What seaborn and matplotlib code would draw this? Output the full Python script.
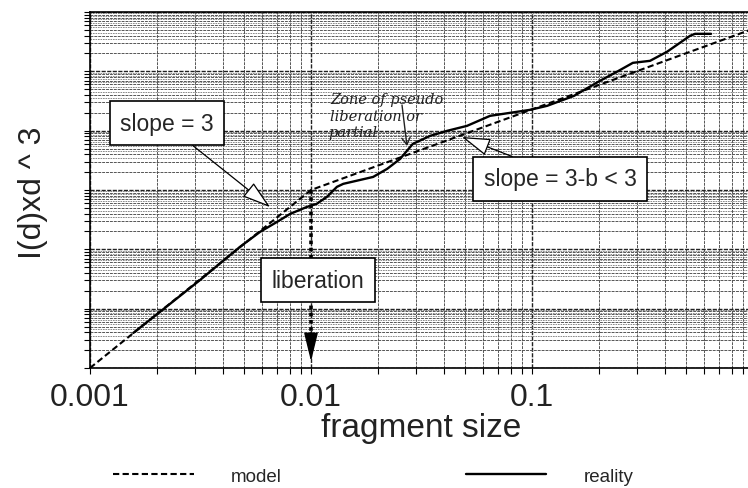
import numpy as np
import pandas as pd
import matplotlib.pyplot as plt
import matplotlib.ticker as mticker
import seaborn as sns

# values
model_size = [0.001, 0.01, 1.0]
model_value = [1, 1000, 5.2e5]

reality_size = [0.00157, 0.00207, 0.00315, 0.00477, 0.00588, 0.00702, 0.00804,
                0.00959, 0.0106, 0.0118, 0.0131, 0.0140, 0.0191, 0.0221, 0.0253,
                0.0289, 0.0346, 0.0413, 0.0508, 0.0646, 0.098, 0.117, 0.155,
                0.203, 0.242, 0.286, 0.342, 0.408, 0.519, 0.547, 0.646]
reality_value = [3.9, 8.8, 30.5, 110, 197, 290, 395, 519, 583, 765, 1130, 1270,
                 1660, 2270, 3340, 5990, 8170, 9930, 12050, 17780, 22440, 26200,
                 38640, 69200, 98100, 139000, 150300, 213300, 397100, 428700,
                 428700]

x_ticks = [0.001, 0.01, 0.1]
x_tick_labels = ['0.001', '0.01', '0.1']
liberation_size = 0.01

sns.set_style('white')
plt.rcParams['font.family'] = ['Liberation Sans', 'DejaVu Sans']

fig = plt.figure(figsize=(7.48, 4.89), dpi=100)
ax = fig.add_axes([90 / 748, 120 / 489, 663 / 748, 356 / 489])

ax.set_xscale('log')
ax.set_yscale('log')
ax.set_xlim(0.001, 1)
ax.set_ylim(1, 1e6)

# log paper grid
ax.xaxis.set_minor_locator(mticker.LogLocator(base=10, subs=range(2, 10), numticks=20))
ax.yaxis.set_minor_locator(mticker.LogLocator(base=10, subs=range(2, 10), numticks=20))
ax.grid(which='major', color='#222222', lw=1.0, ls=(0, (3, 1)))
ax.grid(which='minor', color='#555555', lw=0.7, ls=(0, (3, 1)))
fine = [d * s for d in 10.0 ** np.arange(0, 6) for s in np.arange(3.5, 10, 1.0)]
ax.hlines(fine, 0.001, 1, color='#7a7a7a', lw=0.6, ls=(0, (2, 1)), zorder=0.5)
ax.set_axisbelow(True)

df_model = pd.DataFrame({'size': model_size, 'value': model_value})
df_real = pd.DataFrame({'size': reality_size, 'value': reality_value})
sns.lineplot(data=df_model, x='size', y='value', ax=ax, color='black', lw=1.5,
             ls=(0, (3, 1.6)), label='model', sort=False, estimator=None)
sns.lineplot(data=df_real, x='size', y='value', ax=ax, color='black', lw=1.7,
             label='reality', sort=False, estimator=None)

# liberation marker: dotted drop from the model break down to the axis
ax.plot([liberation_size, liberation_size], [model_value[1], 3.2], color='black',
        lw=2.6, ls=(0, (1, 1)))
ax.annotate('', xy=(liberation_size, 1.3), xytext=(liberation_size, 4.0),
            arrowprops=dict(arrowstyle='-|>,head_length=0.9,head_width=0.22',
                            fc='black', ec='black', lw=1.0, mutation_scale=20,
                            shrinkA=0, shrinkB=0))

box = dict(boxstyle='square,pad=0.45', fc='white', ec='black', lw=1.2)
open_arrow = dict(arrowstyle='-|>,head_length=0.9,head_width=0.28', fc='white',
                  ec='black', lw=0.9, mutation_scale=20, shrinkA=0, shrinkB=0)

ax.annotate('slope = 3', xy=(0.2715, 0.452), xytext=(0.116, 0.688),
            xycoords='axes fraction', textcoords='axes fraction',
            ha='center', va='center', fontsize=16.5, bbox=box,
            arrowprops=dict(open_arrow, relpos=(0.63, 0.0)))
ax.annotate('slope = 3-b < 3', xy=(0.561, 0.649), xytext=(0.709, 0.531),
            xycoords='axes fraction', textcoords='axes fraction',
            ha='center', va='center', fontsize=16.5, bbox=box,
            arrowprops=dict(open_arrow, relpos=(0.37, 1.0)))
ax.text(0.344, 0.247, 'liberation', transform=ax.transAxes, ha='center',
        va='center', fontsize=16.5, bbox=box)

# handwritten note
hand = dict(transform=ax.transAxes, fontsize=10.5, style='italic',
            family='DejaVu Serif', color='#222222', ha='left', va='baseline')
ax.text((330 - 90) / 663, (369 - 104) / 356, 'Zone of pseudo', **hand)
ax.text((330 - 90) / 663, (369 - 121) / 356, 'liberation or', **hand)
ax.text((328 - 90) / 663, (369 - 137) / 356, 'partial', **hand)
ax.annotate('', xy=((407 - 90) / 663, (369 - 147) / 356),
            xytext=((402 - 90) / 663, (369 - 106) / 356),
            xycoords='axes fraction', textcoords='axes fraction',
            arrowprops=dict(arrowstyle='->,head_length=0.5,head_width=0.3',
                            color='#222222', lw=1.0, shrinkA=0, shrinkB=0))

ax.set_xticks(x_ticks, x_tick_labels)
ax.xaxis.set_minor_formatter(mticker.NullFormatter())
ax.yaxis.set_major_formatter(mticker.NullFormatter())
ax.yaxis.set_minor_formatter(mticker.NullFormatter())
ax.tick_params(which='both', direction='out', length=4, width=0.8, color='black',
               bottom=True, left=True)
ax.tick_params(axis='x', labelsize=23, pad=6, labelcolor='#222222')
for s in ax.spines.values():
    s.set_color('black')
    s.set_linewidth(1.2)

ax.set_xlabel('fragment size', fontsize=24, color='#222222')
ax.xaxis.set_label_coords(0.499, -0.125)
ax.set_ylabel('I(d)xd ^ 3', fontsize=23, color='#222222')
ax.yaxis.set_label_coords(-0.063, 0.495)

handles, labels = ax.get_legend_handles_labels()
ax.get_legend().remove()
fig.legend(handles, labels, loc='center left', bbox_to_anchor=(113 / 748, 12 / 489),
           ncol=2, frameon=False, fontsize=13.5, handlelength=4.3,
           handletextpad=2.0, columnspacing=9.8, borderpad=0, borderaxespad=0)

fig.savefig('out.png', dpi=100)
